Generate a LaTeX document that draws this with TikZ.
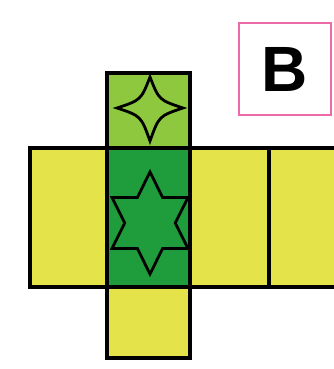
\documentclass[tikz,border=0pt]{standalone}
\usepackage{fontspec}
\setmainfont{Liberation Sans}
\begin{document}
\begin{tikzpicture}[x=1pt,y=-1pt,line width=3.2pt]
  \definecolor{nyellow}{HTML}{E4E44A}
  \definecolor{nlight}{HTML}{8DC83E}
  \definecolor{ndark}{HTML}{1F9C3C}
  \definecolor{npink}{HTML}{EC6AA8}
  \tikzset{face/.style={draw=black,fill=#1}}
  \path[use as bounding box] (0,0) rectangle (334,369);
  \clip (0,0) rectangle (334,369);
  % middle band of the net
  \foreach \a/\b/\c in {30/107/nyellow,107/190/ndark,190/269/nyellow,269/350/nyellow}{
    \draw[face=\c] (\a,148) rectangle (\b,287);
  }
  \draw[face=nlight] (107,73) rectangle (190,148);
  \draw[face=nyellow] (107,287) rectangle (190,358);
  % four-pointed star
  \draw[line join=miter,line width=2.8pt] (150,77) .. controls (159,100) .. (183,108)
    .. controls (159,116) .. (150,141) .. controls (141,116) .. (117,108)
    .. controls (141,100) .. (150,77) -- cycle;
  % six-pointed star
  \draw[shift={(150,223)},xscale=0.86,line join=miter,line width=2.8pt]
    (90:51) -- (60:29.4) -- (30:51) -- (0:29.4) -- (-30:51) -- (-60:29.4)
    -- (-90:51) -- (-120:29.4) -- (-150:51) -- (180:29.4) -- (150:51)
    -- (120:29.4) -- cycle;
  % label box
  \node[draw=npink,fill=white,line width=2.4pt,minimum width=92pt,minimum height=92pt,
        font=\bfseries\fontsize{64}{64}\selectfont,inner sep=0pt] (boxB) at (285,69) {B};
\end{tikzpicture}
\end{document}
